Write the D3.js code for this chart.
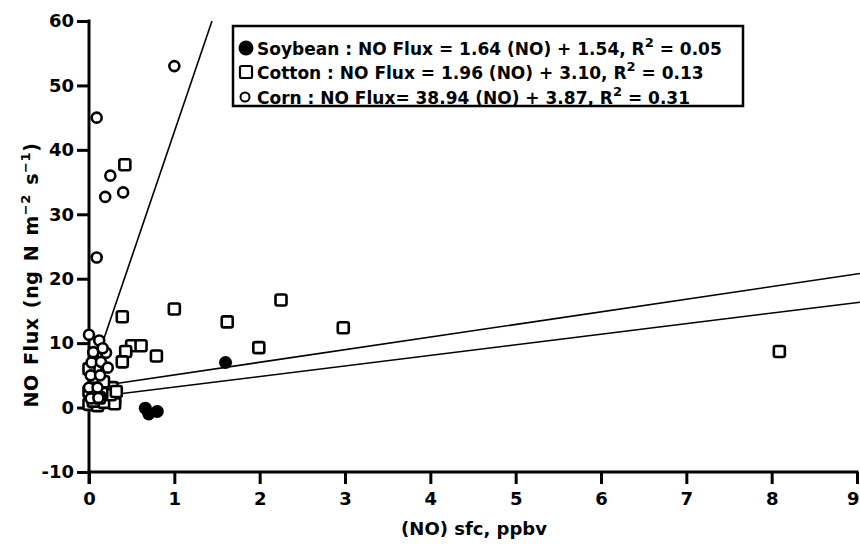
<!DOCTYPE html>
<html>
<head>
<meta charset="utf-8">
<script src="https://cdn.jsdelivr.net/npm/d3@7"></script>
<style>
  body { margin: 0; background: #fff; }
  svg { display: block; font-family: "DejaVu Sans", sans-serif; font-weight: bold; }
</style>
</head>
<body>
<div id="chart"></div>
<script>
// values
const soyX = [1.60, 0.66, 0.70, 0.80];
const soyY = [7.0, -0.1, -1.0, -0.6];

const cottonX = [0.42, 0.39, 1.00, 1.62, 2.25, 2.98, 1.99, 8.09, 0.50, 0.61, 0.79, 0.43, 0.39,
  0.00, 0.05, 0.27, 0.22, 0.30, 0.00, 0.10, 0.18, 0.30, 0.25, 0.05, 0.15, 0.32, 0.08, 0.00, 0.17, 0.12];
const cottonY = [37.7, 14.1, 15.3, 13.3, 16.7, 12.4, 9.3, 8.7, 9.6, 9.6, 8.0, 8.7, 7.1,
  2.5, 3.0, 3.1, 0.9, 1.2, 0.5, 0.3, 0.8, 0.6, 2.0, 1.0, 2.2, 2.5, 5.8, 6.0, 4.0, 1.5];

const cornX = [1.00, 0.09, 0.25, 0.19, 0.40, 0.09, 0.00, 0.12, 0.20, 0.03, 0.14, 0.22, 0.02, 0.13,
  0.00, 0.10, 0.02, 0.11, 0.05, 0.16];
const cornY = [53.0, 45.0, 36.0, 32.7, 33.4, 23.3, 11.3, 10.4, 8.5, 7.0, 7.1, 6.2, 5.0, 5.0,
  3.1, 3.1, 1.4, 1.5, 8.6, 9.2];

// regression fits: [slope, intercept]
const soyFit = [1.64, 1.54];
const cottonFit = [1.96, 3.10];
const cornFit = [38.94, 3.87];

const xTicks = [0, 1, 2, 3, 4, 5, 6, 7, 8, 9];
const yTicks = [-10, 0, 10, 20, 30, 40, 50, 60];

const legendNames = ["Soybean", "Cotton", "Corn"];
const legendEqs = [
  " : NO Flux = 1.64 (NO) + 1.54, R",
  " : NO Flux = 1.96 (NO) + 3.10, R",
  " : NO Flux= 38.94 (NO) + 3.87, R"
];
const legendR2 = ["0.05", "0.13", "0.31"];

const width = 860, height = 544;

const svg = d3.select("#chart").append("svg")
  .attr("width", width)
  .attr("height", height);

const x = d3.scaleLinear().domain([0, 9]).range([89, 857]);
const y = d3.scaleLinear().domain([-10, 60]).range([472, 21]);

// axes
const xAxis = svg.append("g")
  .attr("transform", `translate(0,${y(-10)})`)
  .call(d3.axisBottom(x).tickValues(xTicks).tickSize(12).tickPadding(8).tickFormat(d => String(d)));
const yAxis = svg.append("g")
  .attr("transform", `translate(${x(0)},0)`)
  .call(d3.axisLeft(y).tickValues(yTicks).tickSize(12).tickPadding(3).tickFormat(d => String(d)));

[xAxis, yAxis].forEach(g => {
  g.select(".domain").remove();
  g.selectAll(".tick line").attr("stroke", "#000").attr("stroke-width", 3);
  g.selectAll(".tick text").attr("fill", "#000").attr("font-size", 18).attr("font-weight", "bold")
    .attr("font-family", "'DejaVu Sans', sans-serif");
});
// last x label sits at the right edge
xAxis.selectAll(".tick text").filter(d => d === 9).attr("text-anchor", "end").attr("dx", 2);

// axis lines
svg.append("line")
  .attr("x1", x(0) - 1.5).attr("x2", x(9) + 1.5)
  .attr("y1", y(-10)).attr("y2", y(-10))
  .attr("stroke", "#000").attr("stroke-width", 3);
svg.append("line")
  .attr("x1", x(0)).attr("x2", x(0))
  .attr("y1", y(60) - 1.5).attr("y2", y(-10) + 12)
  .attr("stroke", "#000").attr("stroke-width", 3);

// regression lines
svg.append("clipPath").attr("id", "plotclip")
  .append("rect").attr("x", x(0)).attr("y", y(60)).attr("width", width - x(0)).attr("height", y(-10) - y(60));

function fitLine(fit, x0, x1) {
  return [[x0, fit[0] * x0 + fit[1]], [x1, fit[0] * x1 + fit[1]]];
}
const line = d3.line().x(d => x(d[0])).y(d => y(d[1]));
const fits = [
  fitLine(soyFit, 0.2, 9.1),
  fitLine(cottonFit, 0.2, 9.1),
  fitLine(cornFit, 0.05, (60 - cornFit[1]) / cornFit[0])
];
svg.append("g").attr("clip-path", "url(#plotclip)")
  .selectAll("path").data(fits).enter().append("path")
  .attr("d", line)
  .attr("fill", "none")
  .attr("stroke", "#000")
  .attr("stroke-width", 1.6);

// cotton squares
const sq = 11;
svg.append("g").selectAll("rect")
  .data(cottonX.map((v, i) => [v, cottonY[i]]))
  .enter().append("rect")
  .attr("x", d => x(d[0]) - sq / 2)
  .attr("y", d => y(d[1]) - sq / 2)
  .attr("width", sq).attr("height", sq)
  .attr("rx", 2)
  .attr("fill", "#fff")
  .attr("stroke", "#000")
  .attr("stroke-width", 2.6);

// corn open circles
svg.append("g").selectAll("circle")
  .data(cornX.map((v, i) => [v, cornY[i]]))
  .enter().append("circle")
  .attr("cx", d => x(d[0]))
  .attr("cy", d => y(d[1]))
  .attr("r", 5)
  .attr("fill", "#fff")
  .attr("stroke", "#000")
  .attr("stroke-width", 2.6);

// soybean filled circles
svg.append("g").selectAll("circle")
  .data(soyX.map((v, i) => [v, soyY[i]]))
  .enter().append("circle")
  .attr("cx", d => x(d[0]))
  .attr("cy", d => y(d[1]))
  .attr("r", 6.5)
  .attr("fill", "#000");

// legend
const lg = svg.append("g");
lg.append("rect")
  .attr("x", 233).attr("y", 26).attr("width", 510).attr("height", 80)
  .attr("fill", "#fff").attr("stroke", "#000").attr("stroke-width", 2.5);

const rowY = [48, 72, 97];
lg.append("circle").attr("cx", 246).attr("cy", rowY[0]).attr("r", 7.5).attr("fill", "#000");
lg.append("rect").attr("x", 240).attr("y", rowY[1] - 6).attr("width", 12).attr("height", 12).attr("rx", 1.5)
  .attr("fill", "#fff").attr("stroke", "#000").attr("stroke-width", 2.2);
lg.append("circle").attr("cx", 245).attr("cy", rowY[2]).attr("r", 4.5)
  .attr("fill", "#fff").attr("stroke", "#000").attr("stroke-width", 2);

legendNames.forEach((name, i) => {
  const t = lg.append("text")
    .attr("x", 257).attr("y", rowY[i] + 7)
    .attr("font-size", 17)
    .attr("fill", "#000");
  t.append("tspan").text(name + legendEqs[i]);
  t.append("tspan").attr("font-size", 13).attr("dy", -8).text("2");
  t.append("tspan").attr("dy", 8).text(" = " + legendR2[i]);
});

// axis titles
svg.append("text")
  .attr("x", 474).attr("y", 535)
  .attr("text-anchor", "middle")
  .attr("font-size", 18)
  .text("(NO) sfc, ppbv");

const yl = svg.append("text")
  .attr("transform", "translate(38,275) rotate(-90)")
  .attr("text-anchor", "middle")
  .attr("font-size", 19)
  .attr("letter-spacing", 0.6)
  .attr("word-spacing", 2);
yl.append("tspan").text("NO Flux (ng N m");
yl.append("tspan").attr("font-size", 13).attr("dy", -8).text("\u22122");
yl.append("tspan").attr("dy", 8).text(" s");
yl.append("tspan").attr("font-size", 13).attr("dy", -8).text("\u22121");
yl.append("tspan").attr("dy", 8).text(")");
</script>
</body>
</html>
